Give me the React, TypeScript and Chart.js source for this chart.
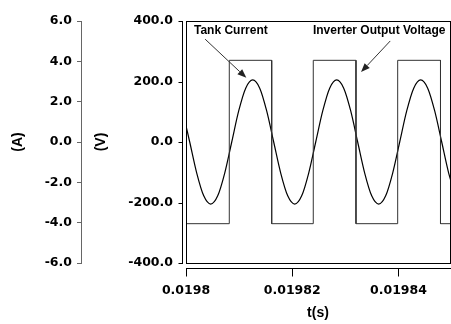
import React, { useEffect, useRef } from 'react';
import { Chart, registerables } from 'chart.js';

Chart.register(...registerables);

// ---- data ----
const currentTimes = [
  0.0198, 0.0198007, 0.01980202, 0.01980334, 0.01980465, 0.01980597, 0.01980729, 0.01980861,
  0.01980992, 0.01981124, 0.01981256, 0.01981388, 0.01981519, 0.01981651, 0.01981783, 0.01981915,
  0.01982047, 0.01982178, 0.0198231, 0.01982442, 0.01982574, 0.01982705, 0.01982837, 0.01982969,
  0.01983101, 0.01983232, 0.01983364, 0.01983496, 0.01983628, 0.01983759, 0.01983891, 0.01984023,
  0.01984155, 0.01984287, 0.01984418, 0.0198455, 0.01984682, 0.01984814, 0.01984945, 0.01985077,
];
const currentAmps = [
  0.8, 0,
  -1.54, -2.67, -3.08, -2.67, -1.54, 0, 1.54, 2.67, 3.08, 2.67, 1.54, 0,
  -1.54, -2.67, -3.08, -2.67, -1.54, 0, 1.54, 2.67, 3.08, 2.67, 1.54, 0,
  -1.54, -2.67, -3.08, -2.67, -1.54, 0, 1.54, 2.67, 3.08, 2.67, 1.54, 0,
  -1.54, -2.67,
];
const voltageTimes = [
  0.0198, 0.01980815, 0.01980815, 0.01981613, 0.01981613, 0.01982396, 0.01982396,
  0.019832, 0.019832, 0.01983985, 0.01983985, 0.01984791, 0.01984791, 0.01985,
];
const voltageVolts = [-270, -270, 270, 270, -270, -270, 270, 270, -270, -270, 270, 270, -270, -270];

const ampTicks = [-6, -4, -2, 0, 2, 4, 6];
const voltTicks = [-400, -200, 0, 200, 400];
const timeTicks = [0.0198, 0.01982, 0.01984];

const X_MIN = 0.0198;
const X_MAX = 0.0198497;

// annotations (data coordinates on the time / voltage scales)
const annotations = [
  { text: 'Tank Current', x: 0.0198015, y: 367, tail: [0.0198036, 340], tip: [0.01981136, 212] },
  { text: 'Inverter Output Voltage', x: 0.0198239, y: 367, tail: [0.01983845, 334], tip: [0.01983295, 231] },
];

const TICK_FONT = { family: '"DejaVu Sans", sans-serif', weight: 'bold' as const, size: 12.5 };
const TITLE_FONT = { family: '"Liberation Sans", Arial, sans-serif', weight: 'bold' as const, size: 14 };

const framePlugin = {
  id: 'frame',
  afterDraw(chart: any) {
    const { ctx, chartArea: a, scales } = chart;
    const L = Math.round(a.left), R = Math.round(a.right), T = Math.round(a.top), B = Math.round(a.bottom);
    ctx.save();
    ctx.lineWidth = 1;
    ctx.strokeStyle = '#000';
    // plot box
    ctx.strokeRect(L + 0.5, T + 0.5, R - L, B - T);
    // voltage axis line + ticks
    const vx = L - 4 + 0.5;
    ctx.beginPath();
    ctx.moveTo(vx, T);
    ctx.lineTo(vx, B + 1);
    for (const v of voltTicks) {
      const py = Math.round(scales.yV.getPixelForValue(v)) + 0.5;
      ctx.moveTo(vx - 4, py);
      ctx.lineTo(vx, py);
    }
    ctx.stroke();
    // time axis line + ticks
    const ty = B + 5 + 0.5;
    ctx.beginPath();
    ctx.moveTo(L, ty);
    ctx.lineTo(R + 1, ty);
    for (const t of timeTicks) {
      const px = Math.round(scales.x.getPixelForValue(t)) + 0.5;
      ctx.moveTo(px, ty);
      ctx.lineTo(px, ty + 8);
    }
    ctx.stroke();
    // annotations
    ctx.fillStyle = '#000';
    ctx.font = 'bold 12px "Liberation Sans", Arial, sans-serif';
    ctx.textBaseline = 'middle';
    ctx.textAlign = 'left';
    for (const an of annotations) {
      ctx.fillText(an.text, scales.x.getPixelForValue(an.x), scales.yV.getPixelForValue(an.y));
      const x0 = scales.x.getPixelForValue(an.tail[0]);
      const y0 = scales.yV.getPixelForValue(an.tail[1]);
      const x1 = scales.x.getPixelForValue(an.tip[0]);
      const y1 = scales.yV.getPixelForValue(an.tip[1]);
      const ang = Math.atan2(y1 - y0, x1 - x0);
      const hl = 9, hw = 3.5;
      const bx = x1 - hl * Math.cos(ang), by = y1 - hl * Math.sin(ang);
      ctx.strokeStyle = '#333';
      ctx.fillStyle = '#222';
      ctx.beginPath();
      ctx.moveTo(x0, y0);
      ctx.lineTo(bx, by);
      ctx.stroke();
      ctx.beginPath();
      ctx.moveTo(x1, y1);
      ctx.lineTo(bx + hw * Math.sin(ang), by - hw * Math.cos(ang));
      ctx.lineTo(bx - hw * Math.sin(ang), by + hw * Math.cos(ang));
      ctx.closePath();
      ctx.fill();
      ctx.fillStyle = '#000';
    }
    ctx.restore();
  },
};

export default function App() {
  const ref = useRef<HTMLCanvasElement | null>(null);
  useEffect(() => {
    if (!ref.current) return;
    const chart = new Chart(ref.current, {
      type: 'line',
      data: {
        datasets: [
          {
            label: 'Inverter Output Voltage',
            data: voltageTimes.map((t, i) => ({ x: t, y: voltageVolts[i] })),
            yAxisID: 'yV',
            borderColor: '#333',
            borderWidth: 1,
            pointRadius: 0,
            tension: 0,
          },
          {
            label: 'Tank Current',
            data: currentTimes.map((t, i) => ({ x: t, y: currentAmps[i] })),
            yAxisID: 'yA',
            borderColor: '#000',
            borderWidth: 1.2,
            pointRadius: 0,
            cubicInterpolationMode: 'monotone',
          },
        ],
      },
      options: {
        responsive: false,
        animation: false,
        layout: { padding: { top: 21, right: 1, left: 0, bottom: 0 } },
        plugins: { legend: { display: false }, tooltip: { enabled: false } },
        scales: {
          x: {
            type: 'linear',
            min: X_MIN,
            max: X_MAX,
            afterBuildTicks: (s: any) => { s.ticks = timeTicks.map((v) => ({ value: v })); },
            afterFit: (s: any) => { s.height = 61; },
            grid: { display: false, drawTicks: false },
            border: { display: false },
            ticks: {
              padding: 20,
              font: TICK_FONT,
              color: '#000',
              maxRotation: 0,
              autoSkip: false,
              callback: (v: any) => String(v),
            },
            title: { display: true, text: 't(s)', color: '#000', font: TITLE_FONT, padding: { top: 0, bottom: 2 } },
          },
          yA: {
            type: 'linear',
            position: 'left',
            weight: 1,
            min: -6,
            max: 6,
            afterBuildTicks: (s: any) => { s.ticks = ampTicks.map((v) => ({ value: v })); },
            afterFit: (s: any) => { s.width = 81; },
            grid: { drawOnChartArea: false, tickLength: 4, color: '#666' },
            border: { color: '#666' },
            ticks: { padding: 5, font: TICK_FONT, color: '#000', callback: (v: any) => Number(v).toFixed(1) },
            title: { display: true, text: '(A)', color: '#000', font: TITLE_FONT, padding: { top: 10, bottom: 0 } },
          },
          yV: {
            type: 'linear',
            position: 'left',
            weight: 0,
            min: -400,
            max: 400,
            afterBuildTicks: (s: any) => { s.ticks = voltTicks.map((v) => ({ value: v })); },
            afterFit: (s: any) => { s.width = 105; },
            grid: { display: false, drawTicks: false },
            border: { display: false },
            ticks: { padding: 13, font: TICK_FONT, color: '#000', callback: (v: any) => Number(v).toFixed(1) },
            title: { display: true, text: '(V)', color: '#000', font: TITLE_FONT, padding: { top: 12, bottom: 0 } },
          },
        },
      } as any,
      plugins: [framePlugin],
    });
    return () => chart.destroy();
  }, []);
  return (
    <div style={{ position: 'absolute', left: 0, top: 0, width: 451, height: 324, background: '#fff' }}>
      <canvas ref={ref} width={451} height={324} style={{ display: 'block' }} />
    </div>
  );
}
